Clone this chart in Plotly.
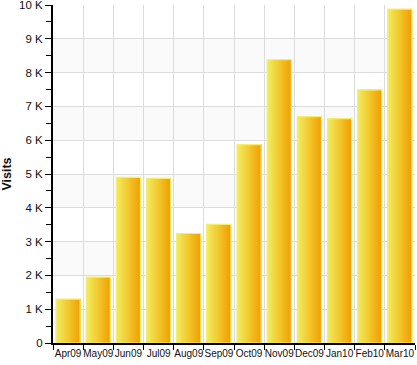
import plotly.graph_objects as go

months = ["Apr09", "May09", "Jun09", "Jul09", "Aug09", "Sep09", "Oct09",
          "Nov09", "Dec09", "Jan10", "Feb10", "Mar10"]
visits = [1300, 1950, 4900, 4870, 3240, 3510, 5870, 8380, 6700, 6640, 7490, 9880]
tick_vals = [0, 1000, 2000, 3000, 4000, 5000, 6000, 7000, 8000, 9000, 10000]
tick_text = ["0", "1 K", "2 K", "3 K", "4 K", "5 K", "6 K", "7 K", "8 K", "9 K", "10 K"]

fig = go.Figure()

BAR_W = 0.8
N = 24
c0 = (240, 238, 100)
c1 = (243, 200, 45)
c2 = (240, 160, 5)


def color_at(t):
    if t < 0.5:
        a, b, u = c0, c1, t / 0.5
    else:
        a, b, u = c1, c2, (t - 0.5) / 0.5
    return "rgb(%d,%d,%d)" % tuple(round(a[k] + (b[k] - a[k]) * u) for k in range(3))


sw = BAR_W / N
for i in range(N):
    fig.add_trace(go.Bar(
        x=months, y=visits, width=sw * 1.05, offset=-BAR_W / 2 + i * sw,
        marker=dict(color=color_at((i + 0.5) / N), line=dict(width=0)),
        hoverinfo="skip", showlegend=False,
    ))

fig.add_trace(go.Bar(
    x=months, y=visits, width=BAR_W, offset=-BAR_W / 2,
    marker=dict(color="rgba(0,0,0,0)", line=dict(color="#f6ee6a", width=1.2)),
    hoverinfo="skip", showlegend=False,
))

shapes = []
for lo in tick_vals[:-1:2]:
    shapes.append(dict(type="rect", xref="paper", yref="y", x0=0, x1=1,
                       y0=lo, y1=lo + 1000, fillcolor="#fafafa",
                       line=dict(width=0), layer="below"))

fig.update_layout(
    width=417, height=365,
    margin=dict(l=53, r=2, t=5, b=22),
    paper_bgcolor="white", plot_bgcolor="white",
    barmode="overlay",
    shapes=shapes,
    font=dict(family="Liberation Sans", color="#111"),
    xaxis=dict(
        type="category", tickson="boundaries", ticks="outside", ticklen=5,
        tickcolor="black", tickwidth=1, tickangle=0, automargin=False,
        showgrid=True, gridcolor="#dcdcdc", gridwidth=1,
        showline=True, linecolor="black", linewidth=2,
        tickfont=dict(size=10), range=[-0.5, 11.5],
        ticklabeloverflow="allow",
    ),
    yaxis=dict(
        range=[0, 10000], tickvals=tick_vals, ticktext=tick_text,
        ticks="outside", ticklen=6, tickcolor="black", tickwidth=1,
        automargin=False, ticklabeloverflow="allow",
        minor=dict(dtick=500, ticks="outside", ticklen=5, tickcolor="black",
                   showgrid=False),
        showgrid=True, gridcolor="#dcdcdc", gridwidth=1,
        showline=True, linecolor="black", linewidth=2, zeroline=False,
        tickfont=dict(size=11.5),
        title=dict(text="<b>Visits</b>", font=dict(size=12.5), standoff=12),
    ),
)

fig.write_html(
    "out.html",
    config={"displayModeBar": False},
    post_script="document.body.style.margin='0';document.body.style.overflow='hidden';",
)
